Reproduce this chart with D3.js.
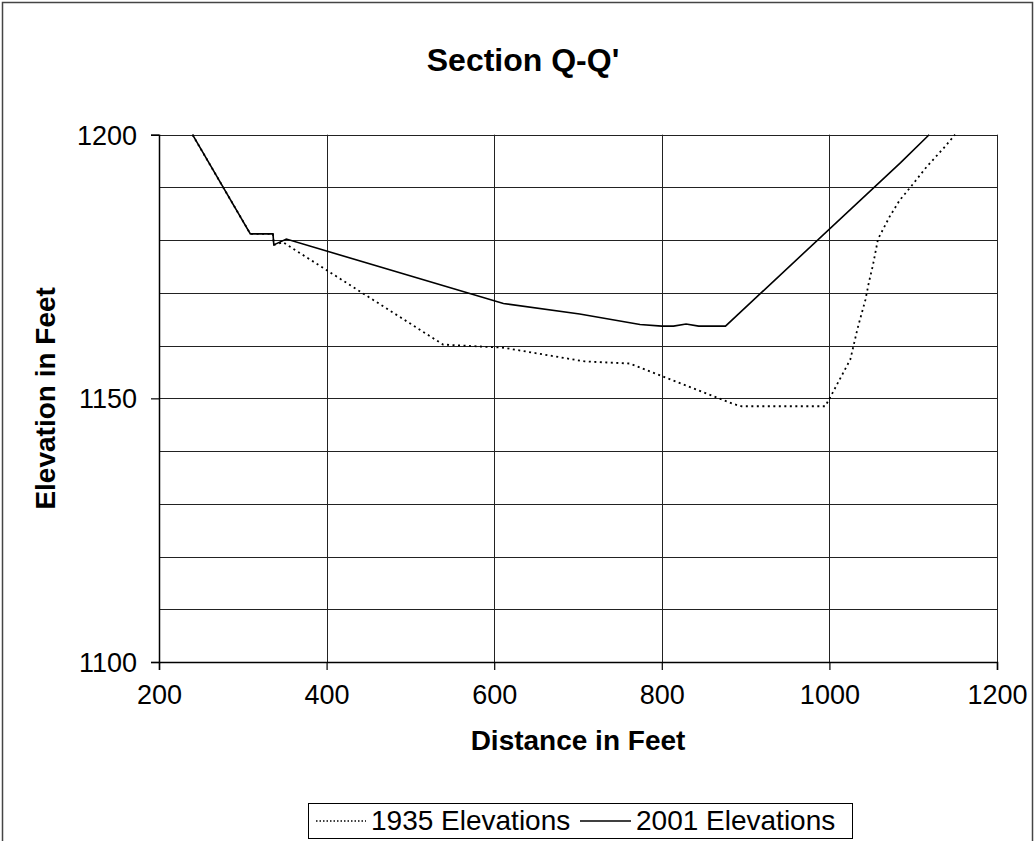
<!DOCTYPE html>
<html><head><meta charset="utf-8">
<script src="https://cdn.jsdelivr.net/npm/d3@7"></script>
<style>body{margin:0;background:#fff}svg{display:block;font-family:"Liberation Sans",Arial,sans-serif}</style>
</head><body><svg id="c" width="1035" height="841"></svg>
<script>
const title = "Section Q-Q'";
const xTitle = "Distance in Feet";
const yTitle = "Elevation in Feet";
const xTicks = [200, 400, 600, 800, 1000, 1200];
const yTicks = [1100, 1150, 1200];
const yGrid = [1110, 1120, 1130, 1140, 1150, 1160, 1170, 1180, 1190, 1200];
const seriesNames = ["1935 Elevations", "2001 Elevations"];
const dist1935 = [240, 309, 336, 337, 348, 539, 611, 708, 762, 886, 895, 995, 1001, 1012, 1025, 1034, 1043, 1047, 1052, 1058, 1072, 1084, 1097, 1116, 1136, 1150];
const elev1935 = [1200, 1181.2, 1181.2, 1179.1, 1179.6, 1160.2, 1159.6, 1157.0, 1156.6, 1148.9, 1148.5, 1148.5, 1150.2, 1153.5, 1157.4, 1163.5, 1168.7, 1171.9, 1175.3, 1180.2, 1184.5, 1187.6, 1190.1, 1193.9, 1197.4, 1200];
const dist2001 = [240, 309, 336, 337, 352, 611, 702, 774, 800, 814, 829, 844, 876, 1085, 1119];
const elev2001 = [1200, 1181.2, 1181.2, 1179.1, 1180.2, 1168.0, 1166.0, 1164.0, 1163.7, 1163.7, 1164.1, 1163.7, 1163.7, 1194.7, 1200];

const svg = d3.select("#c");
const L = 159, R = 997, T = 134.7, B = 662;
const x = d3.scaleLinear().domain([200, 1200]).range([L, R]);
const y = d3.scaleLinear().domain([1100, 1200]).range([B, T]);

// outer border
svg.append("rect").attr("x", 2.5).attr("y", 2.5).attr("width", 1030).attr("height", 860)
  .attr("fill", "none").attr("stroke", "#444").attr("stroke-width", 1.5);

// gridlines
svg.append("g").selectAll("line").data(yGrid).join("line")
  .attr("x1", L).attr("x2", R).attr("y1", d => Math.round(y(d)) + 0.5).attr("y2", d => Math.round(y(d)) + 0.5)
  .attr("stroke", "#222").attr("stroke-width", 1);
svg.append("g").selectAll("line").data(xTicks.slice(1)).join("line")
  .attr("x1", d => Math.round(x(d)) + 0.5).attr("x2", d => Math.round(x(d)) + 0.5).attr("y1", T).attr("y2", B)
  .attr("stroke", "#222").attr("stroke-width", 1);

// axes
const xAxis = d3.axisBottom(x).tickValues(xTicks).tickSize(8).tickPadding(15).tickFormat(d3.format("d"));
const gx = svg.append("g").attr("transform", `translate(0,${B})`).call(xAxis);
const yAxis = d3.axisLeft(y).tickValues(yTicks).tickSize(8).tickPadding(14).tickFormat(d3.format("d"));
const gy = svg.append("g").attr("transform", `translate(${L},0)`).call(yAxis);
[gx, gy].forEach(g => {
  g.select(".domain").attr("stroke", "#000").attr("stroke-width", 1.5);
  g.selectAll(".tick line").attr("stroke", "#000").attr("stroke-width", 1.2);
  g.selectAll("text").attr("font-size", 27).attr("fill", "#000").attr("font-family", "Liberation Sans, Arial, sans-serif");
});
gy.selectAll("text").attr("dy", "0.35em");

// series
const line = d3.line().x(d => x(d[0])).y(d => y(d[1]));
const d35 = dist1935.map((d, i) => [d, elev1935[i]]);
const d01 = dist2001.map((d, i) => [d, elev2001[i]]);
svg.append("defs").append("clipPath").attr("id", "clip").append("rect")
  .attr("x", L).attr("y", T - 2).attr("width", R - L).attr("height", B - T + 2);
const plot = svg.append("g").attr("clip-path", "url(#clip)");
plot.append("path").datum(d35).attr("d", line).attr("fill", "none").attr("stroke", "#000")
  .attr("stroke-width", 1.8).attr("stroke-dasharray", "2,3.5");
plot.append("path").datum(d01).attr("d", line).attr("fill", "none").attr("stroke", "#000")
  .attr("stroke-width", 1.6);

// titles
svg.append("text").attr("x", 523).attr("y", 71).attr("text-anchor", "middle")
  .attr("font-size", 32).attr("font-weight", "bold").text(title);
svg.append("text").attr("x", (L + R) / 2).attr("y", 750).attr("text-anchor", "middle")
  .attr("font-size", 28).attr("font-weight", "bold").text(xTitle);
svg.append("text").attr("transform", `translate(55,${(T + B) / 2}) rotate(-90)`).attr("text-anchor", "middle")
  .attr("font-size", 28).attr("font-weight", "bold").text(yTitle);

// legend
const lg = svg.append("g");
lg.append("rect").attr("x", 308.5).attr("y", 803.5).attr("width", 544).attr("height", 35)
  .attr("fill", "#fff").attr("stroke", "#000").attr("stroke-width", 1);
lg.append("line").attr("x1", 316).attr("x2", 366).attr("y1", 821).attr("y2", 821)
  .attr("stroke", "#000").attr("stroke-width", 1.5).attr("stroke-dasharray", "1.5,2");
lg.append("text").attr("x", 371).attr("y", 830).attr("font-size", 28).text(seriesNames[0]);
lg.append("line").attr("x1", 580).attr("x2", 631).attr("y1", 821).attr("y2", 821)
  .attr("stroke", "#000").attr("stroke-width", 1.5);
lg.append("text").attr("x", 636).attr("y", 830).attr("font-size", 28).text(seriesNames[1]);
</script></body></html>
